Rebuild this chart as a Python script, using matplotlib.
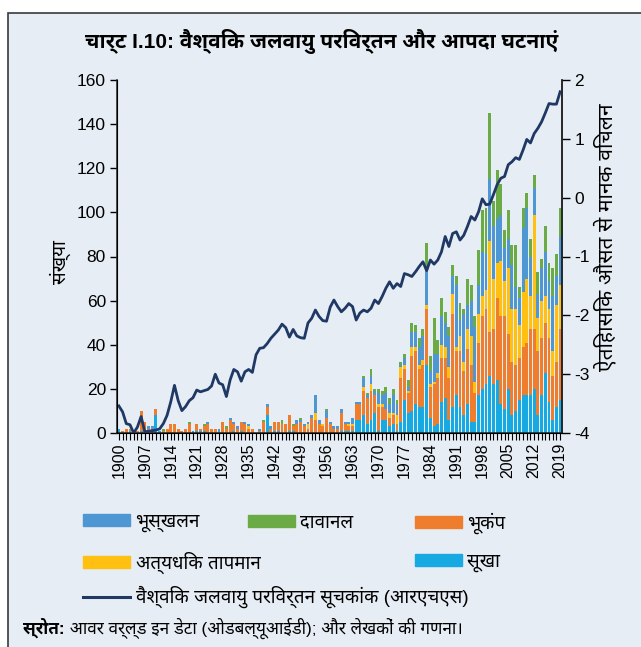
"""
Chart I.10: global climate change index vs. disaster events (1900-2019).

Stacked bars = number of events by type (left axis),
line = global climate change index, std. dev. from historical mean (right axis).
Output: out.png
"""

import matplotlib
matplotlib.use("Agg")
import matplotlib.pyplot as plt
from matplotlib import font_manager
from matplotlib.ft2font import FT2Font
from matplotlib.patches import Patch, Rectangle
from matplotlib.lines import Line2D

YEARS = list(range(1900, 2020))

# counts per year, one row per decade (1900s ... 2010s)
DROUGHT = [
    2, 0, 0, 1, 0, 0, 1, 0, 0, 0,
    8, 1, 0, 0, 0, 0, 0, 0, 0, 0,
    1, 1, 1, 1, 0, 0, 0, 1, 0, 0,
    0, 1, 0, 1, 0, 0, 0, 0, 0, 0,
    8, 0, 1, 1, 0, 0, 1, 1, 0, 0,
    0, 0, 0, 0, 0, 0, 0, 0, 0, 0,
    1, 1, 1, 1, 6, 6, 8, 4, 6, 9,
    1, 6, 6, 3, 4, 1, 5, 15, 9, 10,
    13, 12, 12, 31, 7, 3, 4, 14, 16, 6,
    12, 17, 12, 8, 13, 5, 5, 17, 20, 22,
    26, 22, 24, 13, 11, 20, 8, 10, 15, 17,
    17, 17, 20, 8, 17, 27, 14, 6, 12, 15,
]
EARTHQUAKE = [
    0, 1, 2, 1, 1, 1, 9, 5, 2, 2,
    3, 0, 1, 2, 4, 4, 2, 1, 2, 4,
    0, 3, 1, 2, 4, 2, 2, 0, 5, 2,
    6, 3, 2, 4, 4, 2, 2, 0, 1, 5,
    4, 2, 4, 4, 4, 4, 7, 2, 4, 5,
    3, 2, 7, 6, 4, 3, 7, 4, 2, 2,
    8, 3, 2, 2, 7, 7, 11, 12, 13, 8,
    11, 6, 5, 4, 4, 3, 20, 14, 9, 25,
    24, 17, 19, 25, 14, 19, 21, 20, 18, 19,
    42, 20, 25, 20, 25, 26, 13, 24, 33, 34,
    20, 25, 37, 40, 42, 25, 24, 21, 19, 22,
    24, 30, 27, 29, 26, 23, 29, 20, 20, 32,
]
EXTREME_TEMP = [
    0, 0, 0, 0, 0, 0, 0, 0, 0, 0,
    0, 0, 0, 0, 0, 0, 0, 0, 0, 0,
    0, 0, 0, 0, 0, 0, 0, 0, 0, 0,
    0, 0, 0, 0, 0, 1, 0, 0, 0, 0,
    0, 0, 0, 0, 0, 0, 0, 0, 0, 0,
    0, 2, 0, 3, 0, 1, 0, 0, 0, 0,
    0, 0, 1, 1, 0, 0, 2, 0, 3, 0,
    1, 1, 0, 2, 1, 4, 5, 2, 1, 4,
    2, 2, 2, 2, 1, 1, 2, 6, 5, 5,
    9, 2, 7, 4, 9, 13, 5, 13, 9, 9,
    41, 23, 16, 25, 16, 30, 24, 25, 15, 25,
    29, 15, 52, 15, 17, 12, 13, 11, 26, 20,
]
LANDSLIDE = [
    0, 0, 0, 0, 0, 0, 0, 0, 1, 1,
    0, 0, 0, 0, 0, 0, 0, 0, 0, 0,
    0, 0, 0, 0, 1, 0, 0, 1, 0, 0,
    1, 1, 1, 0, 1, 1, 0, 0, 1, 0,
    1, 1, 0, 0, 0, 0, 0, 0, 2, 1,
    1, 1, 1, 8, 2, 0, 3, 1, 1, 1,
    2, 1, 1, 3, 1, 1, 4, 1, 4, 2,
    5, 4, 7, 4, 8, 5, 1, 3, 2, 7,
    7, 8, 11, 16, 6, 13, 9, 13, 11, 14,
    8, 28, 7, 22, 11, 16, 25, 13, 20, 16,
    28, 24, 20, 21, 15, 13, 20, 10, 12, 29,
    32, 18, 12, 11, 15, 20, 13, 25, 13, 22,
]
WILDFIRE = [
    0, 0, 0, 0, 0, 0, 0, 0, 0, 0,
    0, 0, 1, 0, 0, 0, 0, 0, 0, 1,
    0, 0, 0, 1, 0, 0, 0, 0, 0, 1,
    0, 0, 0, 0, 0, 0, 0, 0, 0, 1,
    0, 0, 0, 0, 2, 0, 0, 1, 0, 1,
    0, 0, 0, 0, 0, 0, 1, 0, 0, 0,
    0, 0, 0, 0, 0, 0, 1, 1, 3, 1,
    2, 2, 3, 3, 3, 2, 1, 2, 3, 4,
    3, 4, 3, 12, 7, 16, 6, 8, 5, 4,
    5, 4, 8, 2, 12, 7, 5, 16, 19, 21,
    30, 11, 22, 14, 8, 13, 9, 19, 5, 9,
    7, 8, 6, 10, 4, 12, 8, 13, 10, 13,
]

# global climate change index (std. dev. from historical mean), RHS
CLIMATE_INDEX = [
    -3.54, -3.64, -3.84, -3.86, -4.00, -3.90, -3.72, -3.98, -3.97, -3.96,
    -3.95, -3.93, -3.84, -3.70, -3.47, -3.19, -3.45, -3.62, -3.55, -3.45,
    -3.40, -3.27, -3.30, -3.28, -3.26, -3.20, -3.00, -3.15, -3.18, -3.38,
    -3.10, -2.92, -2.96, -3.12, -2.96, -2.92, -2.97, -2.67, -2.56, -2.55,
    -2.48, -2.39, -2.32, -2.25, -2.15, -2.21, -2.37, -2.24, -2.35, -2.38,
    -2.39, -2.13, -2.05, -1.91, -2.02, -2.09, -2.10, -1.86, -1.74, -1.85,
    -1.94, -1.88, -1.80, -1.85, -2.08, -1.96, -1.91, -1.94, -1.88, -1.74,
    -1.80, -1.68, -1.54, -1.43, -1.54, -1.46, -1.51, -1.29, -1.31, -1.34,
    -1.26, -1.17, -1.09, -1.24, -1.06, -1.13, -1.06, -0.92, -0.66, -0.83,
    -0.61, -0.58, -0.72, -0.64, -0.49, -0.32, -0.38, -0.24, -0.02, -0.12,
    -0.11, 0.05, 0.22, 0.33, 0.36, 0.56, 0.61, 0.68, 0.65, 0.81,
    0.99, 0.93, 1.09, 1.18, 1.29, 1.44, 1.60, 1.59, 1.59, 1.80,
]

LABELS = {
    "drought": "सूखा",
    "quake": "भूकंप",
    "temp": "अत्यधिक तापमान",
    "slide": "भूस्खलन",
    "fire": "दावानल",
    "index": "वैश्विक जलवायु परिवर्तन सूचकांक (आरएचएस)",
}
TITLE = "चार्ट I.10: वैश्विक जलवायु परिवर्तन और आपदा घटनाएं"
YLABEL_L = "संख्या"
YLABEL_R = "ऐतिहासिक औसत से मानक विचलन"
SOURCE_BOLD = "स्रोत:"
SOURCE_TEXT = " आवर वर्ल्ड इन डेटा (ओडबल्यूआईडी); और लेखकों की गणना।"

COLORS = {
    "drought": "#17a9e1",
    "quake": "#ee7d2e",
    "temp": "#ffc012",
    "slide": "#4f97d3",
    "fire": "#6aab46",
    "index": "#1f3864",
}
BG = "#e6edf4"


def find_devanagari_font():
    """Installed font with Devanagari glyphs; prefer Noto/Lohit-style ones."""
    found = []
    seen = set()
    for f in font_manager.fontManager.ttflist:
        if f.fname in seen:
            continue
        seen.add(f.fname)
        try:
            if 0x0915 in FT2Font(f.fname).get_charmap():
                found.append(f.name)
        except Exception:
            continue
    if not found:
        return None
    for key in ("Noto Sans Devanagari", "Devanagari", "Lohit", "Mukta",
                "Hind", "FreeSans"):
        for name in found:
            if key in name:
                return name
    return found[0]


def main():
    deva = find_devanagari_font()
    fams = ["Liberation Sans"] + ([deva] if deva else []) + ["DejaVu Sans"]
    plt.rcParams["font.family"] = fams
    plt.rcParams["axes.unicode_minus"] = False

    W, H = 641, 647
    fig = plt.figure(figsize=(W / 100, H / 100), dpi=100)
    fig.patches.append(Rectangle((8 / W, -0.01), 1.2, 1 - 13 / H + 0.01,
                                 transform=fig.transFigure, facecolor=BG,
                                 edgecolor="#3a3a3a", lw=1.2, zorder=-10))

    left, right, top, bottom = 117, 562, 80, 433
    ax = fig.add_axes([left / W, 1 - bottom / H, (right - left) / W, (bottom - top) / H])
    ax.patch.set_alpha(0)

    # stacked bars: drought, earthquake, extreme temp, landslide, wildfire
    base = [0] * len(YEARS)
    for key, vals in [("drought", DROUGHT), ("quake", EARTHQUAKE),
                      ("temp", EXTREME_TEMP), ("slide", LANDSLIDE),
                      ("fire", WILDFIRE)]:
        ax.bar(YEARS, vals, bottom=base, width=0.78, color=COLORS[key],
               linewidth=0)
        base = [b + v for b, v in zip(base, vals)]

    ax.set_xlim(1899.5, 2019.5)
    ax.set_ylim(0, 160)
    ax.set_yticks(range(0, 161, 20))
    ax.set_xticks(YEARS[::7])
    ax.set_xticks(YEARS, minor=True)
    ax.set_xticklabels([str(y) for y in YEARS[::7]], rotation=90, fontsize=11.5)
    ax.tick_params(axis="y", labelsize=12.5, length=5, width=1, pad=3)
    ax.tick_params(axis="x", which="both", length=5, width=0.8, pad=2)
    ax.set_ylabel(YLABEL_L, fontsize=13.5, labelpad=4)
    ax.yaxis.label.set_y(0.485)
    ax.spines["top"].set_visible(False)
    for s in ("left", "bottom", "right"):
        ax.spines[s].set_color("#222222")
        ax.spines[s].set_linewidth(1.1)

    ax2 = ax.twinx()
    ax2.plot(YEARS, CLIMATE_INDEX, color=COLORS["index"], lw=2.0,
             solid_joinstyle="round")
    ax2.set_ylim(-4, 2)
    ax2.set_yticks(range(-4, 3))
    ax2.tick_params(axis="y", labelsize=12.5, length=6, width=1, pad=3)
    ax2.set_ylabel(YLABEL_R, fontsize=15, labelpad=3)
    ax2.yaxis.label.set_y(0.555)
    ax2.spines["top"].set_visible(False)
    ax2.spines["right"].set_color("#222222")
    ax2.spines["right"].set_linewidth(1.1)

    fig.text(322 / W, 1 - 41 / H, TITLE, ha="center", va="center",
             fontsize=15, fontweight="bold")

    # legend: placed entry by entry to follow the original layout
    entries = [
        (Patch(color=COLORS["slide"]), LABELS["slide"], 83, 523),
        (Patch(color=COLORS["fire"]), LABELS["fire"], 248, 523),
        (Patch(color=COLORS["quake"]), LABELS["quake"], 415, 523),
        (Patch(color=COLORS["temp"]), LABELS["temp"], 83, 563),
        (Patch(color=COLORS["drought"]), LABELS["drought"], 415, 563),
        (Line2D([], [], color=COLORS["index"], lw=2.2), LABELS["index"], 83, 597),
    ]
    for handle, label, x, y in entries:
        fig.legend([handle], [label], loc="center left",
                   bbox_to_anchor=(x / W, 1 - y / H), frameon=False,
                   fontsize=13.5, handlelength=2.5, handleheight=0.6,
                   handletextpad=0.3, borderpad=0, borderaxespad=0)

    t1 = fig.text(23 / W, 1 - 628 / H, SOURCE_BOLD, ha="left", va="center",
                  fontsize=12.3, fontweight="bold")
    ax.annotate(SOURCE_TEXT, xy=(1, 0.5), xycoords=t1, ha="left", va="center",
                fontsize=12.3, annotation_clip=False)

    fig.savefig("out.png", dpi=100, facecolor="white")


if __name__ == "__main__":
    main()
